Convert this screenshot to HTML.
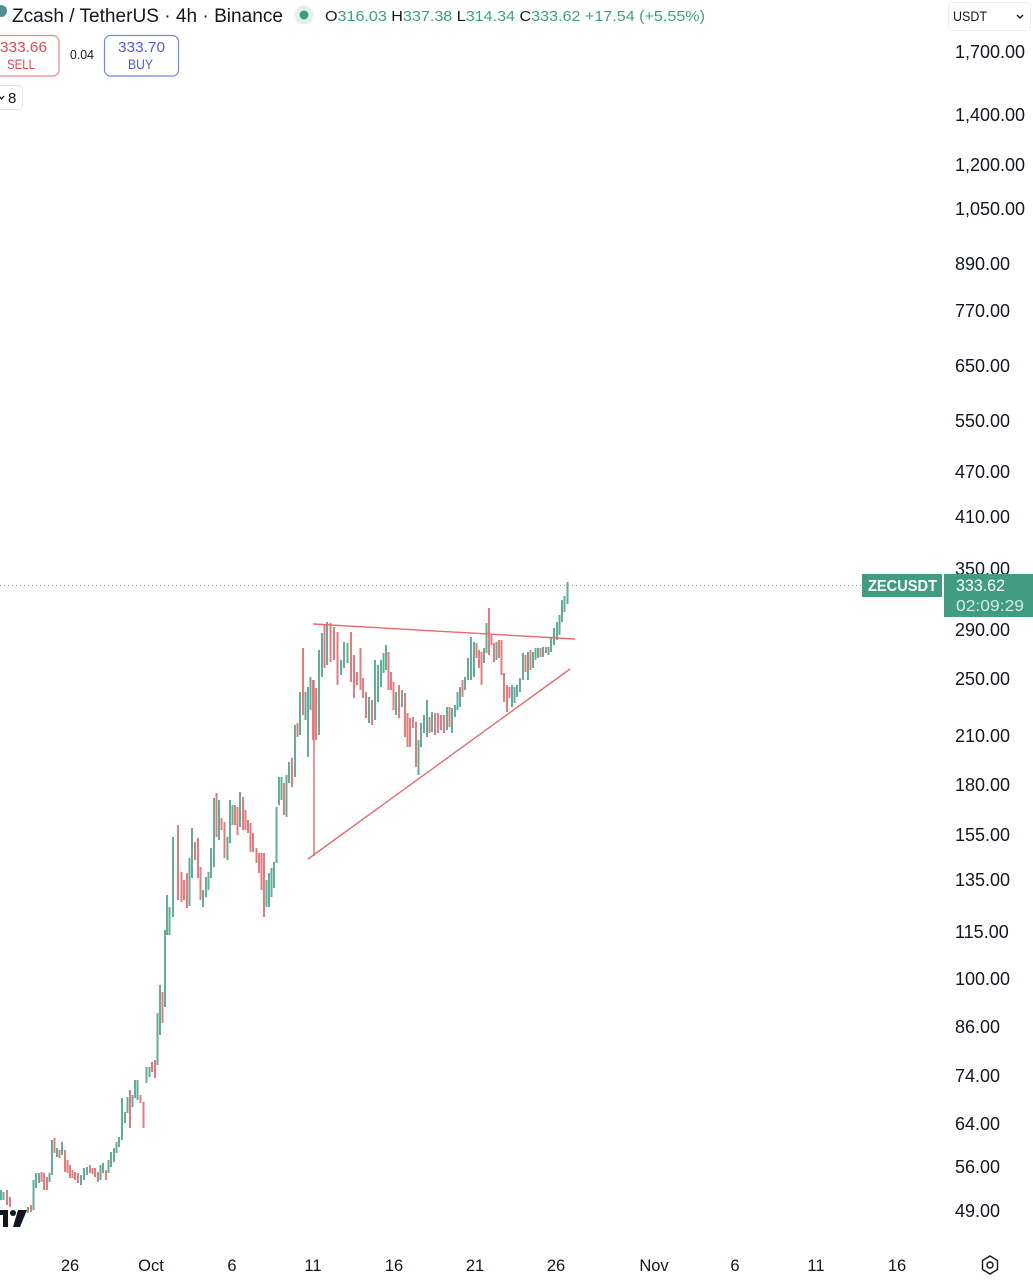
<!DOCTYPE html>
<html>
<head>
<meta charset="utf-8">
<style>
html,body{margin:0;padding:0;background:#fff;}
body{width:1033px;height:1280px;overflow:hidden;position:relative;}
svg{display:block;font-family:"Liberation Sans",sans-serif;}
</style>
</head>
<body>
<svg id="c" width="1033" height="1280" viewBox="0 0 1033 1280" xmlns="http://www.w3.org/2000/svg">
<rect width="1033" height="1280" fill="#fff"/>

<!-- header -->
<circle cx="1" cy="11" r="6" fill="#4f8f94"/>
<text x="12" y="22" font-size="19" fill="#131722" textLength="271" lengthAdjust="spacingAndGlyphs">Zcash / TetherUS · 4h · Binance</text>
<circle cx="304" cy="15" r="9.5" fill="#e2f1ec"/>
<circle cx="304" cy="15" r="4.5" fill="#3f9b80"/>
<text x="325" y="21" font-size="15" fill="#3f9f86" textLength="380" lengthAdjust="spacingAndGlyphs"><tspan fill="#131722">O</tspan>316.03 <tspan fill="#131722">H</tspan>337.38 <tspan fill="#131722">L</tspan>314.34 <tspan fill="#131722">C</tspan>333.62 +17.54 (+5.55%)</text>

<!-- sell / buy -->
<rect x="-10" y="35.5" width="69" height="40.5" rx="6" fill="#fff" stroke="#e8878a" stroke-width="1.2"/>
<text x="47" y="52" font-size="15" fill="#e0484d" text-anchor="end" textLength="47" lengthAdjust="spacingAndGlyphs">333.66</text>
<text x="7" y="69" font-size="13.5" fill="#e0484d" textLength="28" lengthAdjust="spacingAndGlyphs">SELL</text>
<text x="70" y="59" font-size="12.5" fill="#131722" textLength="24" lengthAdjust="spacingAndGlyphs">0.04</text>
<rect x="104.5" y="35.5" width="74" height="40.5" rx="6" fill="#fff" stroke="#7383f0" stroke-width="1.2"/>
<text x="118" y="52" font-size="15" fill="#4c5ce6" textLength="47" lengthAdjust="spacingAndGlyphs">333.70</text>
<text x="128" y="69" font-size="13.5" fill="#4c5ce6" textLength="25" lengthAdjust="spacingAndGlyphs">BUY</text>
<rect x="-6" y="85.5" width="28.5" height="24" rx="4" fill="#fff" stroke="#e0e3eb" stroke-width="1"/>
<path d="M-1 96 L1.5 99 L4 96" fill="none" stroke="#131722" stroke-width="1.3"/>
<text x="8" y="103" font-size="15" fill="#131722">8</text>

<!-- USDT dropdown -->
<rect x="948.5" y="2.5" width="82" height="28" rx="4" fill="#fff" stroke="#eceef2" stroke-width="1"/>
<text x="953" y="21" font-size="14" fill="#131722" textLength="34" lengthAdjust="spacingAndGlyphs">USDT</text>
<path d="M1017 15 L1020 18 L1023 15" fill="none" stroke="#131722" stroke-width="1.4"/>

<!-- price axis labels -->
<g font-size="18" fill="#131722">
<text x="955" y="58">1,700.00</text>
<text x="955" y="121">1,400.00</text>
<text x="955" y="171">1,200.00</text>
<text x="955" y="215">1,050.00</text>
<text x="955" y="270">890.00</text>
<text x="955" y="317">770.00</text>
<text x="955" y="372">650.00</text>
<text x="955" y="427">550.00</text>
<text x="955" y="478">470.00</text>
<text x="955" y="523">410.00</text>
<text x="955" y="575">350.00</text>
<text x="955" y="636">290.00</text>
<text x="955" y="685">250.00</text>
<text x="955" y="742">210.00</text>
<text x="955" y="791">180.00</text>
<text x="955" y="841">155.00</text>
<text x="955" y="886">135.00</text>
<text x="955" y="938">115.00</text>
<text x="955" y="985">100.00</text>
<text x="955" y="1033">86.00</text>
<text x="955" y="1082">74.00</text>
<text x="955" y="1130">64.00</text>
<text x="955" y="1173">56.00</text>
<text x="955" y="1217">49.00</text>
</g>

<!-- time axis labels -->
<g font-size="16.5" fill="#131722" text-anchor="middle">
<text x="70" y="1271">26</text>
<text x="151" y="1271">Oct</text>
<text x="232" y="1271">6</text>
<text x="313" y="1271">11</text>
<text x="394" y="1271">16</text>
<text x="475" y="1271">21</text>
<text x="556" y="1271">26</text>
<text x="654" y="1271">Nov</text>
<text x="735" y="1271">6</text>
<text x="816" y="1271">11</text>
<text x="897" y="1271">16</text>
</g>
<polygon points="990,1256 997.5,1260.5 997.5,1269.5 990,1274 982.5,1269.5 982.5,1260.5" fill="none" stroke="#131722" stroke-width="1.4"/>
<circle cx="990" cy="1265" r="3" fill="none" stroke="#131722" stroke-width="1.4"/>

<!-- current price dotted line -->
<line x1="0" y1="585.5" x2="861" y2="585.5" stroke="#8f99a6" stroke-width="1" stroke-dasharray="1 3"/>

<g id="bars"></g>

<!-- drawings -->
<g stroke="#e86a70" stroke-width="1.4" fill="none">
<line x1="313" y1="624" x2="575" y2="639"/>
<line x1="308" y1="859" x2="570" y2="669"/>
<line x1="314" y1="680" x2="314" y2="856"/>
</g>

<!-- TV logo -->
<g fill="#131722">
<rect x="0" y="1210" width="8" height="5"/>
<rect x="3" y="1210" width="5" height="17"/>
<circle cx="13" cy="1213" r="3"/>
<polygon points="18,1210 27,1210 20,1227 13,1227"/>
</g>

<!-- price labels -->
<rect x="862" y="574" width="80" height="23" fill="#419d82"/>
<text x="868" y="591" font-size="16" font-weight="bold" fill="#fff" textLength="69" lengthAdjust="spacingAndGlyphs">ZECUSDT</text>
<rect x="944" y="574" width="89" height="43" fill="#419d82"/>
<text x="956" y="591" font-size="16.5" fill="#fff" textLength="49" lengthAdjust="spacingAndGlyphs">333.62</text>
<text x="956" y="611" font-size="16" fill="#d5ebe4" textLength="68" lengthAdjust="spacingAndGlyphs">02:09:29</text>
</svg>
<script>
var d=[
[1,1190,1200,1],[3.5,1192,1200,1],[7,1190,1205,0],[10,1197,1207,0],
[28,1207,1213,1],[31,1205,1212,0],[33.5,1180,1210,1],[36,1173,1188,1],[39,1173,1183,1],[41.5,1172,1182,0],[44,1173,1190,0],[47,1177,1190,0],[49.5,1173,1182,1],[52,1140,1175,1],[54.5,1138,1153,0],[57,1148,1157,1],[59.5,1150,1158,0],[62,1142,1155,1],[65,1150,1172,0],[67.5,1160,1173,0],[70,1165,1178,0],[72.5,1170,1178,0],[75,1172,1180,0],[78,1173,1183,0],[81,1175,1185,1],[84,1168,1180,1],[87,1167,1175,1],[90,1165,1173,0],[92.5,1168,1174,0],[95,1168,1177,0],[98,1172,1182,0],[100.5,1165,1180,1],[103,1163,1173,1],[106,1170,1180,0],[108.5,1160,1173,1],[111,1152,1167,1],[114,1148,1162,1],[116.5,1142,1153,1],[119,1137,1147,1],[122,1098,1140,1],[125,1112,1123,1],[127.5,1097,1113,1],[130,1090,1128,0],[132.5,1095,1107,1],[135,1080,1098,1],[137.5,1080,1100,1],[140.5,1095,1103,0],[143.5,1102,1128,0],[146.5,1067,1083,1],[149.5,1067,1077,1],[152,1062,1072,0],[155,1060,1078,0],[157.5,1013,1065,1],[160,985,1035,1],[162.5,992,1023,0],[165,930,1007,1],
[167,895,935,1],[169.5,907,935,1],[173,837,917,1],[178,825,900,0],[181.5,872,902,0],[184,880,900,0],[187,873,908,0],[189.5,858,906,1],[192,828,878,1],[195,842,860,0],[198,838,878,0],[200.5,867,900,0],[203,890,907,1],[206,877,897,1],[208.5,872,890,1],[211,848,878,1],[214,798,867,1],[216.5,793,837,0],[219,800,840,1],[221.5,818,830,0],[224.5,822,858,0],[227.5,837,860,1],[230,800,843,1],[232.5,805,825,1],[235,805,825,0],[237.5,807,835,0],[240,792,827,1],[243,797,830,0],[245.5,810,830,0],[248,820,833,0],[250.5,823,852,0],[253,833,852,0],[256.5,848,863,0],[259,853,873,0],[261.5,853,890,0],[264,853,917,0],[266.5,880,907,1],[269,873,907,1],[271.5,868,897,1],[274,862,888,1],[276.5,807,863,1],[279,777,805,1],[281.5,777,800,1],[284,783,815,0],[286.5,775,817,1],[289,762,783,1],[292,758,787,0],[295,725,777,1],[297.5,723,737,0],[300,692,735,1],[303,648,715,0],[305.5,692,720,1],[308,687,757,1],[310.5,677,710,1],[313,680,740,0],[316,688,740,0],[319,650,735,1],[322,633,677,1],[324.5,625,668,0],[327,622,665,1],[330.5,623,662,0],[334,627,660,0],[337.5,632,685,0],[341,660,675,1],[344,642,668,1],[347.5,643,663,1],[351,632,682,0],[354,655,698,0],[357,672,685,0],[360.5,648,690,0],[363,678,698,0],[366,692,718,0],[369,697,723,1],[372,700,725,0],[375,660,720,1],[378,665,702,1],[381,660,687,1],[383.5,653,673,1],[386,645,670,1],[388.5,652,690,0],[391,672,690,0],[393.5,682,710,0],[396,692,715,1],[399,685,718,0],[402,690,707,1],[405,693,737,0],[407.5,713,747,0],[410,718,747,0],[413,717,728,0],[416,722,767,0],[418.5,740,775,1],[421,723,747,1],[424,715,733,1],[427,700,737,1],[429.5,717,733,0],[432,712,732,1],[435,713,735,0],[438,713,733,0],[441,715,730,0],[444,715,733,0],[447,707,730,1],[449.5,707,727,0],[452,708,733,1],[455,705,717,1],[457.5,692,710,1],[460,687,707,1],[462.5,680,697,0],[465,677,690,1],[468,658,680,1],[471,637,680,1],[474,642,677,1],[476.5,643,658,0],[479,650,668,0],[481.5,652,685,0],[484,648,663,1],[486.5,623,653,1],[489,608,655,0],[491.5,635,645,0],[494,643,662,0],[496.5,642,660,1],[499,640,658,0],[501.5,640,675,0],[504,673,702,0],[507,685,712,0],[509.5,687,698,0],[512,685,707,1],[514.5,687,703,1],[517,685,697,1],[520,678,692,1],[523,653,680,1],[525.5,655,672,0],[528,652,680,1],[530.5,650,670,0],[533,652,668,1],[535.5,648,660,1],[538,648,658,1],[540.5,648,657,0],[543,647,657,1],[546,647,653,0],[548.5,647,655,1],[551,637,652,1],[554,628,645,1],[557,622,640,1],[559.5,615,635,1],[562,600,622,1],[564.5,596,612,1],[567.5,582,604,1]
];
var g=document.getElementById('bars'),ns='http://www.w3.org/2000/svg',h='';
for(var i=0;i<d.length;i++){var b=d[i];var r=document.createElementNS(ns,'rect');r.setAttribute('x',b[0]-1);r.setAttribute('y',b[1]);r.setAttribute('width',2);r.setAttribute('height',Math.max(2,b[2]-b[1]));r.setAttribute('fill',b[3]?'#62ae99':'#e77a7f');g.appendChild(r);}
</script>
</body>
</html>
